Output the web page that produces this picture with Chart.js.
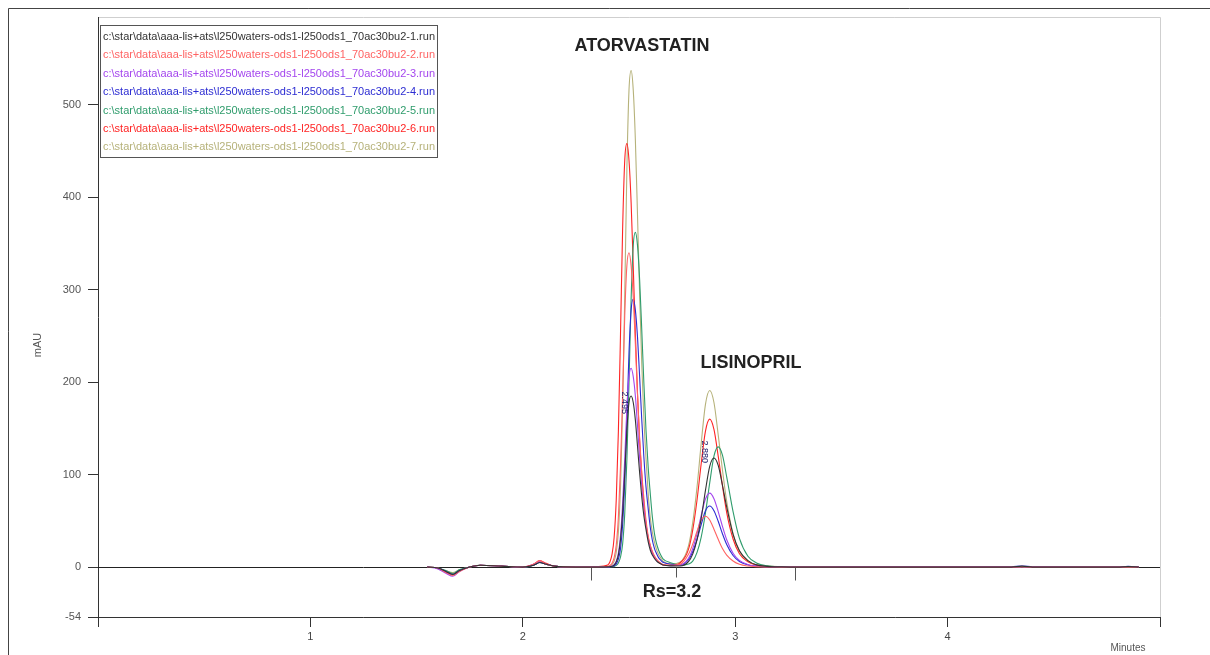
<!DOCTYPE html>
<html><head><meta charset="utf-8">
<style>html,body{margin:0;padding:0;background:#fff;overflow:hidden}canvas{display:block}</style>
<script src="https://cdn.jsdelivr.net/npm/chart.js@4.4.1/dist/chart.umd.min.js"></script>
</head><body>
<canvas id="c" width="1210" height="655"></canvas>
<script>
// retention time grid (minutes)
const times = [
 1.55,1.60,1.64,1.67,1.70,1.75,1.80,1.90,2.00,2.05,2.08,2.11,2.15,2.25,2.35,
 2.40,2.41,2.42,2.43,2.44,2.45,2.46,2.47,2.48,2.49,2.50,2.51,2.52,2.53,2.54,2.55,2.56,2.57,2.58,2.59,2.60,2.61,2.62,2.63,2.64,2.65,2.66,
 2.70,2.74,2.78,2.80,2.82,2.84,2.86,2.88,2.90,2.92,2.94,2.96,2.99,3.02,3.06,3.10,3.15,3.22,3.30,
 3.50,4.00,4.30,4.35,4.40,4.80,4.85,4.90
];
// absorbance (mAU) for each run
const run1 = [0,-1,-5,-8,-4,0,2,1,0,2,5,3,1,0,0,
 0.2,0.4,0.9,2.2,5.6,13,29.6,59,102,148,178,185,178,159,131,102,76,55.5,40.7,27.8,18.5,13,9.3,6.5,4.6,3.3,2.2,
 1.3,1.2,5.9,14,29.5,53,83,109,118,110,88.5,65,35.4,17.7,7,2.4,0.8,0.2,0,
 0,0,0,1,0,0,0.5,0];
const run2 = [0,-1,-6,-9,-5,0,2,1,0,3,7,3,1,0,0,
 0.7,1.7,4.1,10.2,23.8,54,109,187,272,326,340,326,292,241,187,139,102,75,51,34,24,17,12,8.5,6,4,2.7,
 2.0,2.9,13.8,24.8,38.5,50.6,55,51,41,30,20,13,6.6,3,1.1,0.4,0.2,0,0,
 0,0,0,0.5,0,0,0,0];
const run3 = [0,-2,-7,-10,-5,0,2,1,0,3,6,3,1,0,0,
 0.1,0.4,1.1,2.6,6.5,15,34,69,118,172,206,215,206,185,153,118,88,64.5,47,32,21.5,15,10.8,7.5,5.4,3.9,2.6,
 1.5,2,9.6,20,36,56,73.6,80,74,60,44,29.6,15,7.2,2.8,1,0.4,0.2,0,
 0,0,0,0.5,0,0,0.5,0];
const run4 = [0,-1,-5,-8,-4,0,2,1,0,2,5,3,1,0,0,
 0.1,0.3,0.6,1.5,3.5,8.7,20,46,93,160,232,278,290,278,249,206,160,119,87,64,43.5,29,20,14.5,10,7.3,5.2,
 3.0,2.2,8,16.5,29.7,46,61,66,61,49.5,36,24.4,12.5,6,2.3,0.9,0.3,0.1,0,
 0.3,0.3,0.3,1.2,0.3,0,0.8,0];
const run5 = [0,-1,-4,-7,-3,0,2,1,0,2,5,3,1,0,0,
 0,0.1,0.3,0.7,1.8,4.3,10.9,25,58,116,199,290,348,362,348,311,257,199,148,109,80,54,36,25,18,12.7,9,
 4.5,2.0,3.3,6.5,15.6,32.5,58.5,91,120,130,121,97.5,60,31,11.7,4.5,1.3,0.4,0,
 0,0,0,0.5,0,0,0,0];
const run6 = [0,-1,-6,-8,-4,0,2,1,0,3,7,4,1,0,0.5,
 2.3,5.5,13.7,32,73,147,252,366,440,458,440,394,325,252,188,137,101,69,46,32,23,16,11.5,8.2,5.5,3.7,2.3,
 2.0,4.4,19.2,40,72,112,147,160,149,120,88,59,30.4,14.4,5.6,2.1,0.8,0.3,0,
 0,0,0,0.5,0,0,0,0];
const run7 = [0,-1,-4,-6,-3,0,2,1,0,2,5,3,1,0,0,
 0.5,1.1,2.7,6.4,16,37.6,86,172,295,430,516,537,516,462,381,295,220,161,118,80.5,54,37.6,27,18.8,13.4,9.7,6.4,
 3.5,5.3,23,48,86,134,176,191,178,143,105,71,36,17,6.7,2.5,1,0.4,0,
 0,0,0,0.5,0,0,0,0];
const runNames = [
 'c:\\star\\data\\aaa-lis+ats\\l250waters-ods1-l250ods1_70ac30bu2-1.run',
 'c:\\star\\data\\aaa-lis+ats\\l250waters-ods1-l250ods1_70ac30bu2-2.run',
 'c:\\star\\data\\aaa-lis+ats\\l250waters-ods1-l250ods1_70ac30bu2-3.run',
 'c:\\star\\data\\aaa-lis+ats\\l250waters-ods1-l250ods1_70ac30bu2-4.run',
 'c:\\star\\data\\aaa-lis+ats\\l250waters-ods1-l250ods1_70ac30bu2-5.run',
 'c:\\star\\data\\aaa-lis+ats\\l250waters-ods1-l250ods1_70ac30bu2-6.run',
 'c:\\star\\data\\aaa-lis+ats\\l250waters-ods1-l250ods1_70ac30bu2-7.run'
];
const yTicks = [-54,0,100,200,300,400,500];
const xTicks = [0,1,2,3,4,5];
const xTickLabels = ['','1','2','3','4',''];
const peakNames = ['ATORVASTATIN','LISINOPRIL'];
const peakTimes = ['2.495','2.880'];
const rsLabel = 'Rs=3.2';
const markerTimes = [2.32,2.72,3.28];

const runs = [run1,run2,run3,run4,run5,run6,run7];
const colors = ['#333333','#ff6464','#a446ee','#2c2cd2','#2f9c6c','#ff2424','#b6b27a'];

const decor = {
  id:'decor',
  beforeDraw(chart){
    const ctx = chart.ctx, a = chart.chartArea;
    ctx.save();
    ctx.fillStyle = '#fff'; ctx.fillRect(0,0,chart.width,chart.height);
    ctx.strokeStyle = '#444'; ctx.lineWidth = 1;
    ctx.beginPath(); ctx.moveTo(8.5,655); ctx.lineTo(8.5,8.5); ctx.lineTo(1210,8.5); ctx.stroke();
    ctx.strokeStyle = '#cfcfcf';
    ctx.beginPath(); ctx.moveTo(a.left,a.top+0.5); ctx.lineTo(a.right+0.5,a.top+0.5); ctx.lineTo(a.right+0.5,a.bottom); ctx.stroke();
    ctx.restore();
  },
  beforeDatasetsDraw(chart){
    const ctx = chart.ctx, a = chart.chartArea, xs = chart.scales.x, ys = chart.scales.y;
    const y0 = Math.round(ys.getPixelForValue(0)) + 0.5;
    ctx.save();
    ctx.strokeStyle = '#222'; ctx.lineWidth = 1;
    ctx.beginPath(); ctx.moveTo(a.left,y0); ctx.lineTo(a.right,y0); ctx.stroke();
    markerTimes.forEach((t,i)=>{
      const x = Math.round(xs.getPixelForValue(t)) + 0.5;
      ctx.strokeStyle = '#555';
      ctx.beginPath(); ctx.moveTo(x,y0); ctx.lineTo(x,y0 + (i===1?10:13)); ctx.stroke();
    });
    ctx.restore();
  },
  afterDatasetsDraw(chart){
    const ctx = chart.ctx, xs = chart.scales.x, ys = chart.scales.y;
    ctx.save();
    // legend box
    ctx.fillStyle = '#fff'; ctx.fillRect(100,25,338,133);
    ctx.strokeStyle = '#555'; ctx.lineWidth = 1; ctx.strokeRect(100.5,25.5,337,132);
    ctx.font = '11px "Liberation Sans Narrow", "Liberation Sans", Arial, sans-serif';
    ctx.textBaseline = 'middle'; ctx.textAlign = 'left';
    runNames.forEach((n,i)=>{ ctx.fillStyle = colors[i]; ctx.fillText(n,103,37 + i*18.4,332); });
    // peak names
    ctx.fillStyle = '#222'; ctx.textAlign = 'center';
    ctx.font = 'bold 18px "Liberation Sans", Arial, sans-serif';
    ctx.fillText(peakNames[0], 642, 46, 148);
    ctx.fillText(peakNames[1], 751, 363, 110);
    ctx.fillText(rsLabel, 672, 592, 64);
    // retention time labels (vertical)
    ctx.font = '9px "Liberation Sans", Arial, sans-serif';
    ctx.fillStyle = '#1c1c6a'; ctx.textAlign = 'left';
    [[peakTimes[0],2.495,190],[peakTimes[1],2.87,137]].forEach(p=>{
      ctx.save();
      ctx.translate(xs.getPixelForValue(p[1]) - 3, ys.getPixelForValue(p[2]));
      ctx.rotate(Math.PI/2);
      ctx.fillText(p[0],0,0);
      ctx.restore();
    });
    // axis titles
    ctx.fillStyle = '#555'; ctx.textAlign = 'center';
    ctx.font = '11px "Liberation Sans", Arial, sans-serif';
    ctx.save(); ctx.translate(38,345); ctx.rotate(-Math.PI/2); ctx.fillText('mAU',0,0); ctx.restore();
    ctx.font = '10px "Liberation Sans Narrow", "Liberation Sans", Arial, sans-serif';
    ctx.fillText('Minutes',1128,648);
    ctx.restore();
  }
};

new Chart(document.getElementById('c'), {
  type:'line',
  data:{ datasets: runs.map((r,i)=>({
    label: runNames[i],
    data: times.map((t,k)=>({x:t,y:r[k]})),
    borderColor: colors[i], borderWidth: 1.1, pointRadius: 0, fill:false,
    cubicInterpolationMode:'monotone'
  }))},
  options:{
    responsive:false, devicePixelRatio:1, animation:false,
    layout:{padding:{top:17,right:50,left:0,bottom:0}},
    plugins:{legend:{display:false}, tooltip:{enabled:false}},
    scales:{
      x:{ type:'linear', min:0, max:5,
        afterBuildTicks(s){ s.ticks = xTicks.map(v=>({value:v})); },
        afterFit(s){ s.height = 38; },
        ticks:{ callback:(v)=>xTickLabels[xTicks.indexOf(v)] ?? '', color:'#444', font:{size:11, family:'"Liberation Sans", Arial, sans-serif'}, padding:3, maxRotation:0 },
        grid:{ drawOnChartArea:false, drawTicks:true, tickLength:10, tickColor:'#333' },
        border:{ color:'#333', width:1 }
      },
      y:{ type:'linear', min:-54, max:595,
        afterBuildTicks(s){ s.ticks = yTicks.map(v=>({value:v})); },
        afterFit(s){ s.width = 98; },
        ticks:{ color:'#555', font:{size:11, family:'"Liberation Sans", Arial, sans-serif'}, padding:7 },
        grid:{ drawOnChartArea:false, drawTicks:true, tickLength:10, tickColor:'#333' },
        border:{ color:'#333', width:1 }
      }
    }
  },
  plugins:[decor]
});
</script>
</body></html>
